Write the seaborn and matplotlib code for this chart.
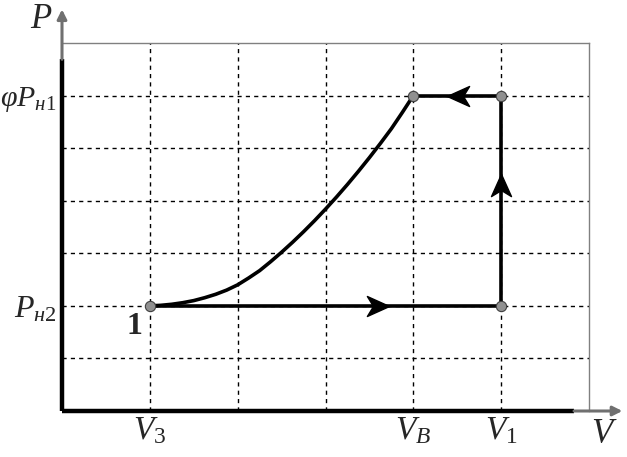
import numpy as np
import pandas as pd
import matplotlib
matplotlib.use("Agg")
import matplotlib.pyplot as plt
from matplotlib.path import Path
from matplotlib.markers import MarkerStyle
from matplotlib.transforms import Affine2D
import seaborn as sns

# grid positions on both axes (data units)
v_grid = [1, 2, 3, 4, 5]
p_grid = [1, 2, 3, 4, 5, 6]
v_ticklabels = ['$V_3$', '', '', '$V_B$', '$V_1$']
p_ticklabels = ['', '$P_{н2}$', '', '', '', r'$\varphi P_{н1}$']

# state points of the cycle
point_v = [1, 5, 5, 4]
point_p = [2, 2, 6, 6]

# straight segments: 1 -> V1 (bottom), V1 up, V1 -> VB (top)
seg_bottom_v = [1, 5]
seg_bottom_p = [2, 2]
seg_right_v = [5, 5]
seg_right_p = [2, 6]
seg_top_v = [5, 4]
seg_top_p = [6, 6]

# curved segment VB -> V3
curve_v = [1.0, 1.125, 1.25, 1.375, 1.5, 1.625, 1.75, 1.875, 2.0, 2.125, 2.25,
           2.375, 2.5, 2.625, 2.75, 2.875, 3.0, 3.125, 3.25, 3.375, 3.5, 3.625,
           3.75, 3.875, 4.0]
curve_p = [2.0, 2.01, 2.03, 2.06, 2.10, 2.155, 2.22, 2.30, 2.40, 2.53, 2.67,
           2.84, 3.02, 3.21, 3.41, 3.62, 3.84, 4.07, 4.31, 4.56, 4.82, 5.09,
           5.37, 5.68, 6.0]

# direction arrows (position, angle)
arrow_v = [3.6, 4.51, 5.0]
arrow_p = [2.0, 6.0, 4.3]
arrow_ang = [0, 180, 90]

sns.set_style("white")
plt.rcParams['font.family'] = ['Liberation Serif', 'DejaVu Serif']
plt.rcParams['mathtext.fontset'] = 'custom'
plt.rcParams['mathtext.it'] = 'Liberation Serif:italic'
plt.rcParams['mathtext.rm'] = 'Liberation Serif'
plt.rcParams['mathtext.bf'] = 'Liberation Serif:bold'

W, H = 627, 457
fig = plt.figure(figsize=(W / 100, H / 100), dpi=100)
ax = fig.add_axes([62 / W, (H - 411) / H, (589 - 62) / W, (411 - 43) / H])
ax.set_xlim(0, 6)
ax.set_ylim(0, 7)

# frame: only top and right thin gray
for s in ['left', 'bottom']:
    ax.spines[s].set_visible(False)
for s in ['top', 'right']:
    ax.spines[s].set_color('#808080')
    ax.spines[s].set_linewidth(1.0)

ax.set_xticks(v_grid)
ax.set_xticklabels(v_ticklabels, fontsize=24)
ax.set_yticks(p_grid)
ax.set_yticklabels(p_ticklabels, fontsize=23)
ax.get_yticklabels()[5].set_fontsize(21.5)
ax.tick_params(axis='x', length=0, pad=3)
ax.tick_params(axis='y', length=0, pad=4)
ax.grid(True, color='black', linestyle=(0, (3, 3)), linewidth=1.0)

# axes with arrows
ax.plot([0, 5.83], [0, 0], color='black', lw=3.2, clip_on=False, solid_capstyle='butt')
ax.plot([0, 0], [0, 6.69], color='black', lw=3.2, clip_on=False, solid_capstyle='butt')
ax.annotate('', xy=(6.38, 0), xytext=(5.83, 0), annotation_clip=False,
            arrowprops=dict(arrowstyle='-|>', color='#707070', lw=2.2,
                            mutation_scale=14, shrinkA=0, shrinkB=0))
ax.annotate('', xy=(0, 7.64), xytext=(0, 6.69), annotation_clip=False,
            arrowprops=dict(arrowstyle='-|>', color='#707070', lw=2.2,
                            mutation_scale=14, shrinkA=0, shrinkB=0))
ax.text(6.17, -0.45, '$V$', fontsize=25, ha='center', va='center', clip_on=False)
ax.text(-0.24, 7.45, '$P$', fontsize=25, ha='center', va='center', clip_on=False)

# cycle lines
for vv, pp in [(seg_bottom_v, seg_bottom_p), (seg_right_v, seg_right_p),
               (seg_top_v, seg_top_p), (curve_v, curve_p)]:
    sns.lineplot(x=vv, y=pp, sort=False, color='black', lw=2.6, ax=ax,
                 estimator=None, solid_capstyle='round', solid_joinstyle='round')

# arrowheads
head = Path([(1, 0), (-1, 0.9), (-0.45, 0), (-1, -0.9), (1, 0)],
            [Path.MOVETO, Path.LINETO, Path.LINETO, Path.LINETO, Path.CLOSEPOLY])
for vv, pp, ang in zip(arrow_v, arrow_p, arrow_ang):
    m = MarkerStyle(head, transform=Affine2D().rotate_deg(ang))
    ax.plot([vv], [pp], marker=m, markersize=16, color='black', linestyle='none')

sns.scatterplot(x=point_v, y=point_p, s=55, color='#909090', edgecolor='#404040',
                linewidth=0.8, ax=ax, zorder=5)

ax.text(0.83, 1.6, '1', fontsize=23, fontweight='bold', ha='center', va='center')

fig.savefig('out.png', dpi=100)
